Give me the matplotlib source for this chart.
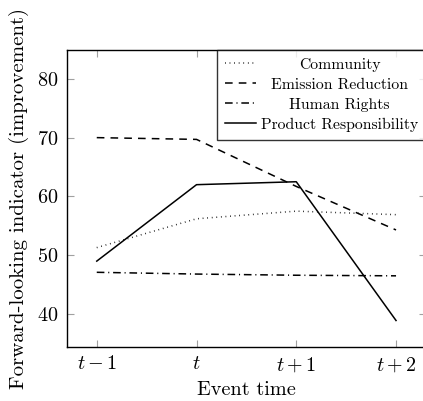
import matplotlib
matplotlib.use("Agg")
import matplotlib.pyplot as plt

plt.rcParams['font.family'] = 'serif'
plt.rcParams['font.serif'] = ['cmr10']
plt.rcParams['mathtext.fontset'] = 'cm'
plt.rcParams['axes.formatter.use_mathtext'] = True

# data
event_labels = ['$t-1$', '$t$', '$t+1$', '$t+2$']
community = [51.3, 56.2, 57.5, 56.9]
emission = [70.0, 69.7, 61.7, 54.3]
human_rights = [47.1, 46.8, 46.6, 46.5]
product_resp = [49.0, 62.0, 62.5, 38.9]

x = list(range(len(event_labels)))

fig = plt.figure(figsize=(4.23, 4.01), dpi=100)
ax = fig.add_axes([0.158, 0.1347, 0.849, 0.7406])

ax.plot(x, community, color='black', lw=1.1, linestyle=(0, (0.5, 2.5)), label='Community')
ax.plot(x, emission, color='black', lw=1.1, linestyle=(0, (5, 4)), label='Emission Reduction')
ax.plot(x, human_rights, color='black', lw=1.1, linestyle=(0, (5, 2.5, 0.7, 2.5)), label='Human Rights')
ax.plot(x, product_resp, color='black', lw=1.1, linestyle='-', label='Product Responsibility')

ax.set_xlim(-0.3, 3.3)
ax.set_ylim(34.4, 84.9)
ax.set_xticks(x)
ax.set_xticklabels(event_labels)
ax.set_yticks([40, 50, 60, 70, 80])

ax.tick_params(direction='in', length=5, width=0.8, color='#a0a0a0',
               top=True, right=True, labelsize=14.5, pad=6)
for s in ax.spines.values():
    s.set_linewidth(1.0)

ax.set_xlabel('Event time', fontsize=14.6, labelpad=5)
ax.set_ylabel('Forward-looking indicator (improvement)', fontsize=15, labelpad=6)

leg = ax.legend(loc='upper right', bbox_to_anchor=(1.0, 1.0), fontsize=11.3,
                frameon=True, fancybox=False, handlelength=2.0, handletextpad=0.3,
                labelspacing=0.38, borderpad=0.5, borderaxespad=0)
leg.get_frame().set_edgecolor('black')
leg.get_frame().set_linewidth(1.0)

# centre the legend labels like pgfplots does
fig.canvas.draw()
r = fig.canvas.get_renderer()
texts = leg.get_texts()
widths = [t.get_window_extent(r).width for t in texts]
wmax = max(widths)
for t, w in zip(texts, widths):
    t.set_position(((wmax - w) / 2, 0))

fig.savefig('out.png', dpi=100)
